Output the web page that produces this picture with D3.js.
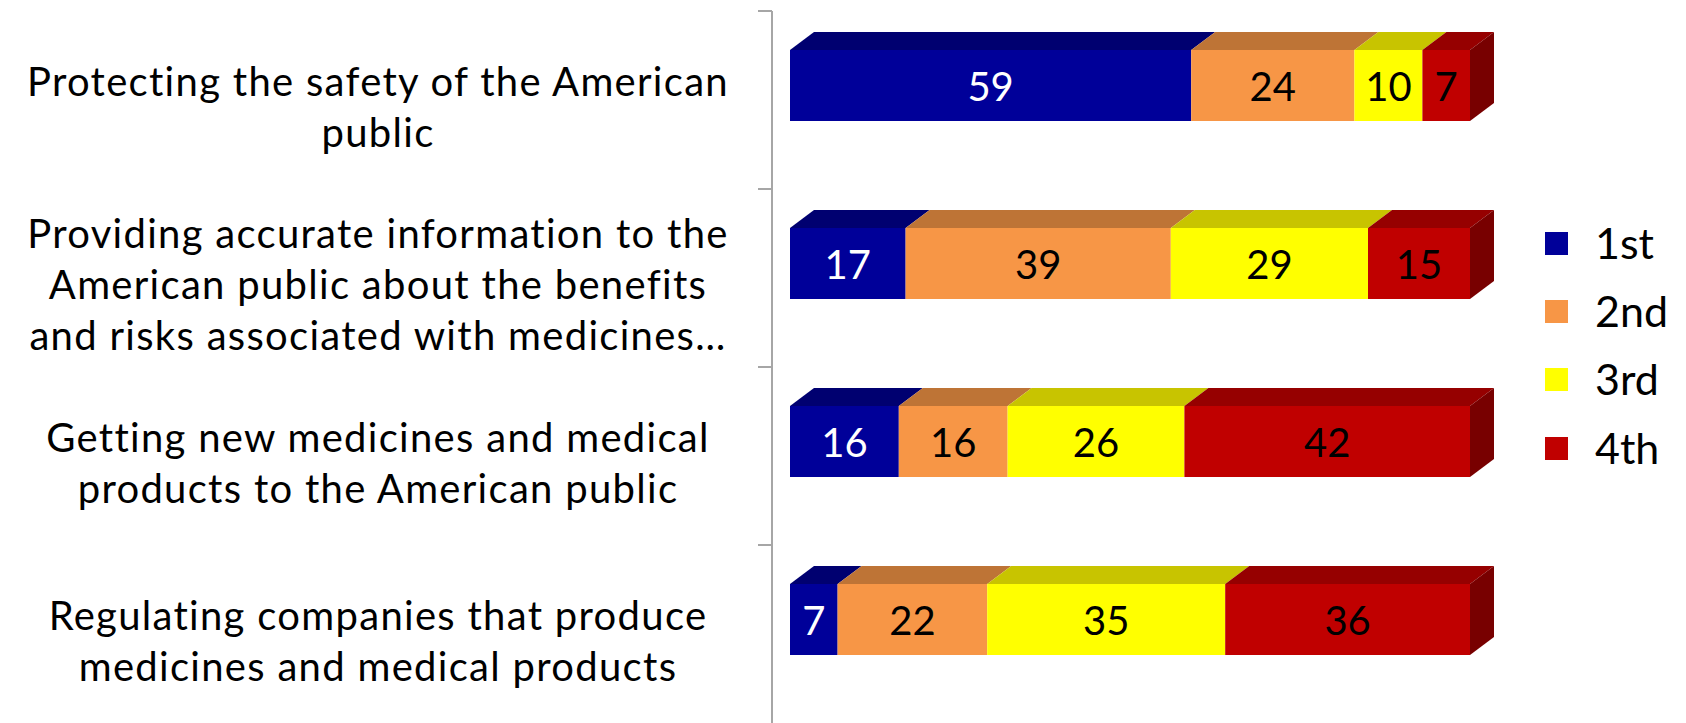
<!DOCTYPE html>
<html>
<head>
<meta charset="utf-8">
<script src="https://cdn.jsdelivr.net/npm/d3@7"></script>
<style>
  body { margin:0; background:#fff; }
  .catLabel { font-family: Lato, "Noto Sans", sans-serif; font-size:40px; letter-spacing:1.3px; fill:#000; text-anchor:middle; }
  .valLabel { font-family: Lato, "Noto Sans", sans-serif; font-size:40px; text-anchor:middle; }
  .legLabel { font-family: Lato, "Noto Sans", sans-serif; font-size:43px; fill:#000; }
</style>
</head>
<body>
<svg id="svg-chart" width="1686" height="723"></svg>
<script>
var svg = d3.select("#svg-chart");

// Data
var categories = [
  ["Protecting the safety of the American", "public"],
  ["Providing accurate information to the", "American public about the benefits", "and risks associated with medicines\u2026"],
  ["Getting new medicines and medical", "products to the American public"],
  ["Regulating companies that produce", "medicines and medical products"]
];
var series = ["1st", "2nd", "3rd", "4th"];
var first  = [59, 17, 16, 7];
var second = [24, 39, 16, 22];
var third  = [10, 29, 26, 35];
var fourth = [7, 15, 42, 36];

// Colours: front face, top face, side face, label
var col_front = ["#000099", "#F79646", "#FFFF00", "#C00000"];
var col_top   = ["#000070", "#BE7436", "#C8C400", "#960000"];
var col_side  = ["#00004d", "#8f5628", "#9a9700", "#780000"];
var col_text  = ["#fff", "#000", "#000", "#000"];

// Layout
var dim = { axis_x:772, bar_left:790, bar_right:1470, top:11, bottom:723,
            front_off:39, h_front:71, dx:24, dy:18 };

var rows = categories.map(function(c, i) {
  return { idx:i, "1st":first[i], "2nd":second[i], "3rd":third[i], "4th":fourth[i] };
});
var stacked = d3.stack().keys(series)(rows);

// Scales
var xScale = d3.scaleLinear().domain([0, 100]).range([dim.bar_left, dim.bar_right]);
var yScale = d3.scaleBand().domain(d3.range(categories.length)).range([dim.top, dim.bottom]);

// Axis (ticks between categories, no labels)
var axisG = svg.append("g")
               .attr("transform", "translate(" + dim.axis_x + ",0)");
axisG.append("line")
     .attr("x1", 0).attr("x2", 0)
     .attr("y1", dim.top).attr("y2", dim.bottom + 2)
     .style("stroke", "#a6a6a6").style("stroke-width", 2);
axisG.selectAll("tick")
     .data(d3.range(categories.length))
     .enter()
     .append("line")
     .attr("x1", -14).attr("x2", 0)
     .attr("y1", function(d) { return yScale(d); })
     .attr("y2", function(d) { return yScale(d); })
     .style("stroke", "#a6a6a6").style("stroke-width", 2);

// Bars
var frontTop = function(i) { return yScale(i) + dim.front_off; };

stacked.forEach(function(layer, s) {
  var g = svg.append("g").attr("class", "layer" + s);
  // top face
  g.selectAll("topface")
   .data(layer)
   .enter()
   .append("path")
   .attr("d", function(d, i) {
     var x0 = xScale(d[0]), x1 = xScale(d[1]), y = frontTop(i);
     return "M" + x0 + "," + y + "L" + (x0 + dim.dx) + "," + (y - dim.dy) +
            "L" + (x1 + dim.dx) + "," + (y - dim.dy) + "L" + x1 + "," + y + "Z";
   })
   .style("fill", col_top[s]);
  // front face
  g.selectAll("front")
   .data(layer)
   .enter()
   .append("rect")
   .attr("x", function(d) { return xScale(d[0]); })
   .attr("y", function(d, i) { return frontTop(i); })
   .attr("width", function(d) { return xScale(d[1]) - xScale(d[0]); })
   .attr("height", dim.h_front)
   .style("fill", col_front[s]);
  // value labels
  g.selectAll("val")
   .data(layer)
   .enter()
   .append("text")
   .attr("class", "valLabel")
   .attr("x", function(d) { return (xScale(d[0]) + xScale(d[1])) / 2; })
   .attr("y", function(d, i) { return frontTop(i) + dim.h_front / 2 + 15; })
   .style("fill", col_text[s])
   .text(function(d) { return d[1] - d[0]; });
});

// Right side face on the last segment
var last = stacked[stacked.length - 1];
svg.selectAll("sideface")
   .data(last)
   .enter()
   .append("path")
   .attr("d", function(d, i) {
     var x1 = xScale(d[1]), y = frontTop(i);
     return "M" + x1 + "," + y + "L" + (x1 + dim.dx) + "," + (y - dim.dy) +
            "L" + (x1 + dim.dx) + "," + (y + dim.h_front - dim.dy) +
            "L" + x1 + "," + (y + dim.h_front) + "Z";
   })
   .style("fill", col_side[3]);

// Category labels
var lineH = 51;
categories.forEach(function(lines, i) {
  var mid = yScale(i) + yScale.bandwidth() / 2 + 7;
  svg.append("text")
     .attr("class", "catLabel")
     .attr("x", 378)
     .selectAll("tspan")
     .data(lines)
     .enter()
     .append("tspan")
     .attr("x", 378)
     .attr("y", function(d, j) { return mid + (j - (lines.length - 1) / 2) * lineH + 14; })
     .text(function(d) { return d; });
});

// Legend
var legend = svg.append("g").attr("transform", "translate(1545,0)");
var legY = [244, 312, 380, 449];
legend.selectAll("legRect")
      .data(series)
      .enter()
      .append("rect")
      .attr("x", 0)
      .attr("y", function(d, i) { return legY[i] - 12; })
      .attr("width", 23).attr("height", 23)
      .style("fill", function(d, i) { return col_front[i]; });
legend.selectAll("legText")
      .data(series)
      .enter()
      .append("text")
      .attr("class", "legLabel")
      .attr("x", 50)
      .attr("y", function(d, i) { return legY[i] + 15; })
      .text(function(d) { return d; });
</script>
</body>
</html>
